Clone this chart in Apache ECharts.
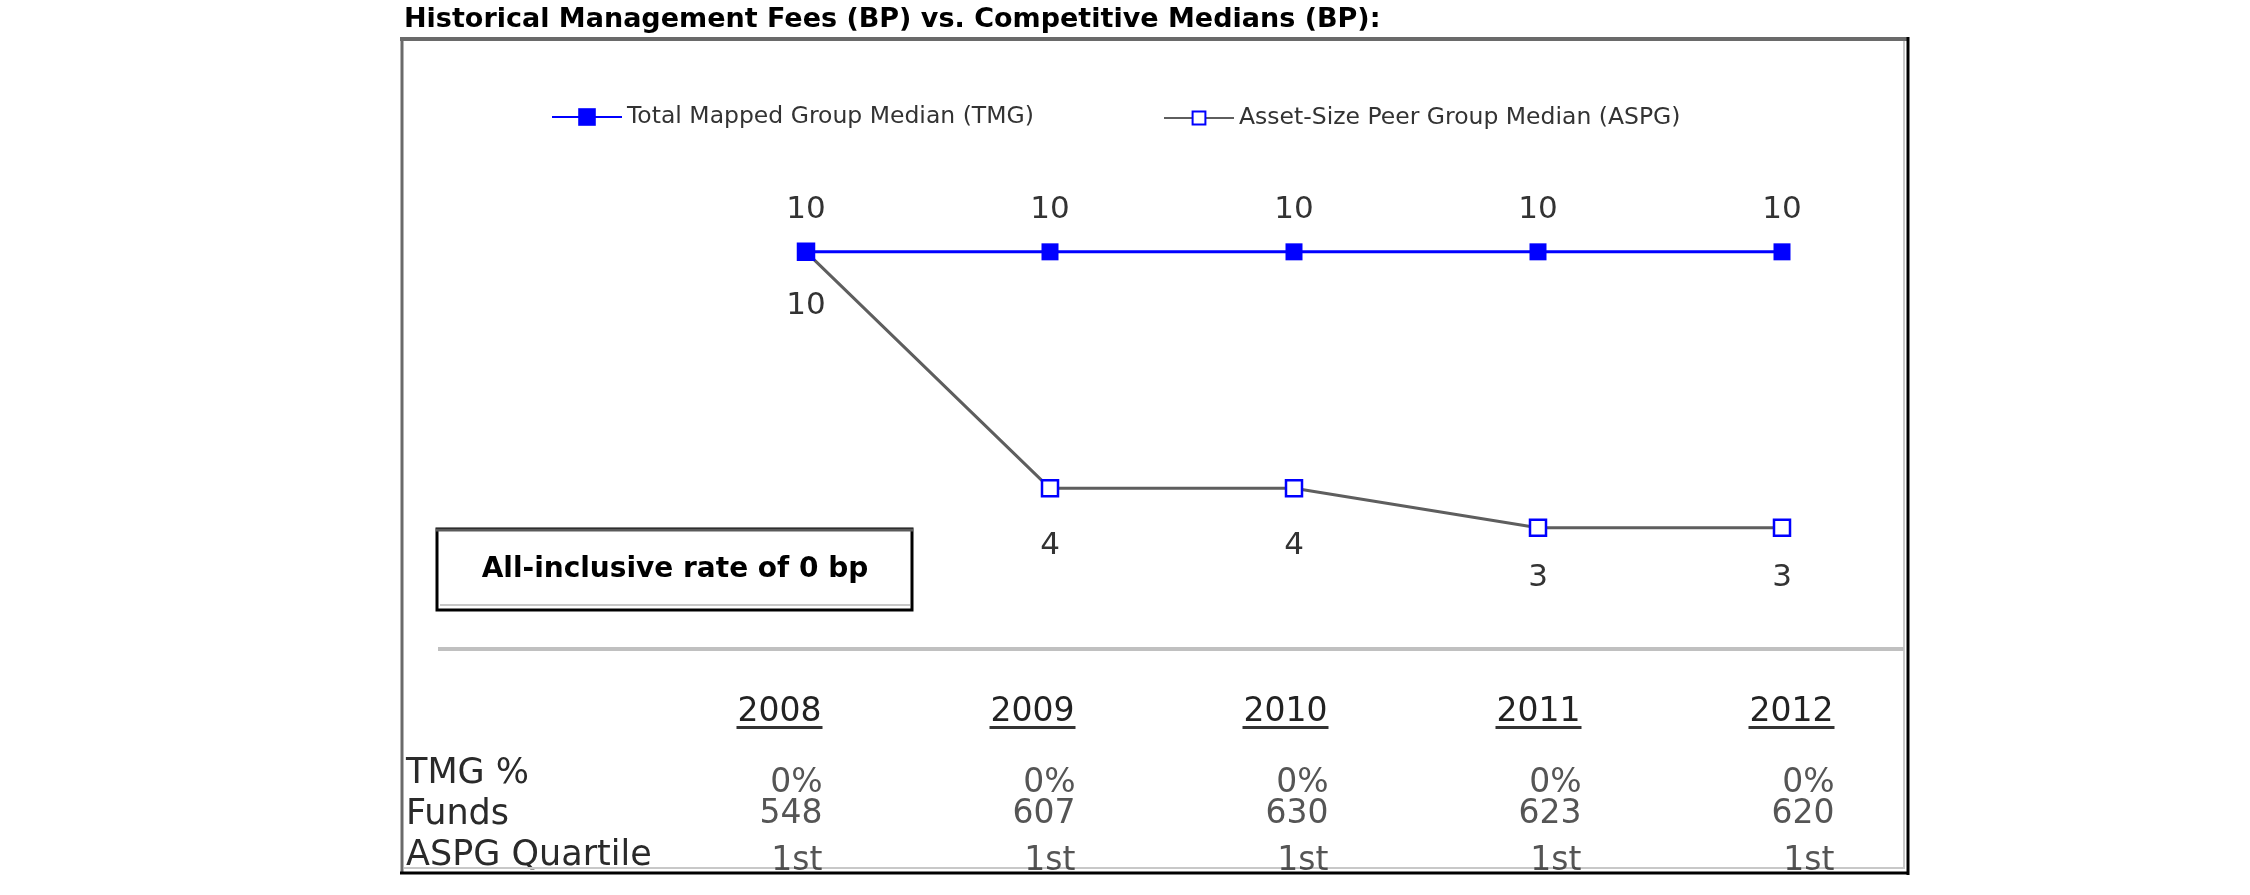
<!DOCTYPE html>
<html>
<head>
<meta charset="utf-8">
<script src="https://cdn.jsdelivr.net/npm/echarts@6/dist/echarts.min.js"></script>
<style>
html,body{margin:0;padding:0;background:#fff;}
#chart{width:2250px;height:895px;}
</style>
</head>
<body>
<div id="chart"></div>
<script>
const titleText = 'Historical Management Fees (BP) vs. Competitive Medians (BP):';
const years = ['2008', '2009', '2010', '2011', '2012'];
const tmgName = 'Total Mapped Group Median (TMG)';
const aspgName = 'Asset-Size Peer Group Median (ASPG)';
const tmgValues = [10, 10, 10, 10, 10];
const aspgValues = [10, 4, 4, 3, 3];
const noteText = 'All-inclusive rate of 0 bp';
const tableRows = ['TMG %', 'Funds', 'ASPG Quartile'];
const tmgPct = ['0%', '0%', '0%', '0%', '0%'];
const funds = ['548', '607', '630', '623', '620'];
const aspgQuartile = ['1st', '1st', '1st', '1st', '1st'];

// style-only helpers (label gaps below the ASPG points, row offsets in the table)
const aspgLabelGap = [29, 33, 33, 25, 25];
const rowOffsets = [10, 0, 6];

const FONT = 'DejaVu Sans';
const tableValues = [tmgPct, funds, aspgQuartile];

const chart = echarts.init(document.getElementById('chart'), null, {renderer: 'canvas'});

const tableSeries = tableRows.map((row, r) => ({
  type: 'scatter',
  name: row,
  xAxisIndex: 1,
  yAxisIndex: 1,
  symbolSize: 1,
  itemStyle: {color: 'rgba(0,0,0,0)'},
  silent: true,
  data: years.map((y, i) => [y, row, tableValues[r][i]]),
  label: {
    show: true,
    position: 'inside',
    align: 'right',
    verticalAlign: 'middle',
    offset: [43, rowOffsets[r]],
    formatter: p => p.value[2],
    fontFamily: FONT,
    fontSize: 33,
    color: '#2a2a2a'
  }
}));

const aspgData = aspgValues.map((v, i) => ({
  value: v,
  label: {distance: aspgLabelGap[i]}
}));

const option = {
  animation: false,
  backgroundColor: '#fff',
  title: {
    text: titleText,
    left: 404,
    top: 6,
    padding: 0,
    textStyle: {fontFamily: FONT, fontSize: 27, fontWeight: 'bold', color: '#000'}
  },
  legend: [
    {
      data: [tmgName], left: 551, top: 105, padding: 0,
      itemWidth: 70, itemHeight: 22,
      textStyle: {fontFamily: FONT, fontSize: 23.5, color: '#333'}
    },
    {
      data: [aspgName], left: 1163, top: 106, padding: 0,
      itemWidth: 70, itemHeight: 16,
      textStyle: {fontFamily: FONT, fontSize: 23.5, color: '#333'}
    }
  ],
  grid: [
    {left: 684, width: 1220, top: 173, height: 473},
    {left: 653, width: 1265, top: 753, height: 123}
  ],
  xAxis: [
    {
      gridIndex: 0, type: 'category', data: years, boundaryGap: true,
      axisLine: {show: false}, axisTick: {show: false}, axisLabel: {show: false}, splitLine: {show: false}
    },
    {
      gridIndex: 1, type: 'category', data: years, position: 'top', boundaryGap: true,
      axisLine: {show: false}, axisTick: {show: false}, splitLine: {show: false},
      axisLabel: {
        show: true, margin: 24, interval: 0,
        formatter: v => '{y|' + v + '}\n{u|}',
        rich: {
          y: {fontFamily: FONT, fontSize: 33, color: '#222', lineHeight: 28},
          u: {width: 86, height: 3, lineHeight: 3, backgroundColor: '#333'}
        }
      }
    }
  ],
  yAxis: [
    {
      gridIndex: 0, type: 'value', min: 0, max: 12,
      axisLine: {show: false}, axisTick: {show: false}, axisLabel: {show: false}, splitLine: {show: false}
    },
    {
      gridIndex: 1, type: 'category', data: tableRows, inverse: true,
      axisLine: {show: false}, axisTick: {show: false}, splitLine: {show: false},
      axisLabel: {show: true, interval: 0, align: 'left', margin: 247, fontFamily: FONT, fontSize: 35, color: '#2a2a2a'}
    }
  ],
  graphic: [
    // outer frame
    {type: 'line', silent: true, shape: {x1: 400, y1: 39, x2: 1909, y2: 39}, style: {stroke: '#6a6a6a', lineWidth: 4}, z: 1},
    {type: 'line', silent: true, shape: {x1: 402, y1: 37, x2: 402, y2: 874}, style: {stroke: '#6a6a6a', lineWidth: 3}, z: 1},
    {type: 'line', silent: true, shape: {x1: 1908, y1: 37, x2: 1908, y2: 875}, style: {stroke: '#000', lineWidth: 3}, z: 1},
    {type: 'line', silent: true, shape: {x1: 1904, y1: 41, x2: 1904, y2: 868}, style: {stroke: '#c8c8c8', lineWidth: 2}, z: 1},
    {type: 'line', silent: true, shape: {x1: 400, y1: 873, x2: 1909, y2: 873}, style: {stroke: '#000', lineWidth: 3}, z: 1},
    {type: 'line', silent: true, shape: {x1: 404, y1: 868, x2: 1905, y2: 868}, style: {stroke: '#c8c8c8', lineWidth: 2}, z: 1},
    // separator
    {type: 'line', silent: true, shape: {x1: 438, y1: 649, x2: 1904, y2: 649}, style: {stroke: '#c0c0c0', lineWidth: 4}, z: 1},
    // note box
    {type: 'rect', silent: true, shape: {x: 437, y: 529, width: 475, height: 81}, style: {fill: '#fff', stroke: '#000', lineWidth: 3}, z: 1},
    {type: 'line', silent: true, shape: {x1: 436, y1: 530, x2: 913, y2: 530}, style: {stroke: '#5a5a5a', lineWidth: 3}, z: 2},
    {type: 'line', silent: true, shape: {x1: 440, y1: 605, x2: 910, y2: 605}, style: {stroke: '#c8c8c8', lineWidth: 2}, z: 2},
    {
      type: 'text', silent: true, x: 675, y: 570, z: 3,
      style: {text: noteText, fontFamily: FONT, fontSize: 28, fontWeight: 'bold', fill: '#000', align: 'center', verticalAlign: 'middle'}
    }
  ],
  series: [
    {
      type: 'line',
      name: aspgName,
      xAxisIndex: 0, yAxisIndex: 0,
      data: aspgData,
      symbol: 'rect', symbolSize: 16, showAllSymbol: true,
      itemStyle: {color: '#ffffff', borderColor: '#0000ff', borderWidth: 2.5},
      lineStyle: {color: '#5e5e5e', width: 3},
      z: 3,
      label: {show: true, position: 'bottom', distance: 25, fontFamily: FONT, fontSize: 31, color: '#333'}
    },
    {
      type: 'line',
      name: tmgName,
      xAxisIndex: 0, yAxisIndex: 0,
      data: tmgValues,
      symbol: 'rect', symbolSize: 17, showAllSymbol: true,
      itemStyle: {color: '#0000ff'},
      lineStyle: {color: '#0000ff', width: 3},
      z: 4,
      label: {show: true, position: 'top', distance: 18, fontFamily: FONT, fontSize: 31, color: '#333'}
    }
  ].concat(tableSeries)
};

chart.setOption(option);
</script>
</body>
</html>
